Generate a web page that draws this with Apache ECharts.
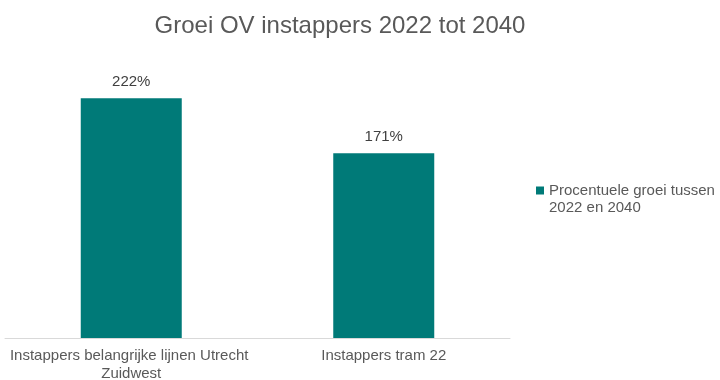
<!DOCTYPE html>
<html>
<head>
<meta charset="utf-8">
<script src="https://cdn.jsdelivr.net/npm/echarts@6/dist/echarts.min.js"></script>
<style>html,body{margin:0;padding:0;background:#fff}#c{width:720px;height:380px}</style>
</head>
<body>
<div id="c"></div>
<script>
var categories = ["Instappers belangrijke lijnen Utrecht Zuidwest", "Instappers tram 22"];
var values = [222, 171];
var seriesName = "Procentuele groei tussen 2022 en 2040";
var titleText = "Groei OV instappers 2022 tot 2040";

var chart = echarts.init(document.getElementById('c'), null, {renderer: 'canvas'});
var font = "'Liberation Sans', Arial, sans-serif";
chart.setOption({
  animation: false,
  backgroundColor: '#ffffff',
  title: {
    text: titleText,
    left: 335, top: 9, textAlign: 'center',
    textStyle: {fontFamily: font, fontSize: 24, fontWeight: 'normal', color: '#595959'}
  },
  legend: {
    orient: 'vertical',
    left: 536, top: 165, padding: 0,
    itemWidth: 8, itemHeight: 8, itemGap: 4,
    icon: 'rect',
    formatter: function (n) { return '\n' + n.replace(' 2022', '\n2022'); },
    textStyle: {fontFamily: font, fontSize: 15, color: '#595959', lineHeight: 17}
  },
  grid: {left: 5, right: 210, top: 68, bottom: 42, containLabel: false, outerBoundsMode: 'none'},
  xAxis: {
    type: 'category',
    data: categories,
    axisLine: {lineStyle: {color: '#d9d9d9', width: 1}},
    axisTick: {show: false},
    axisLabel: {interval: 0, fontFamily: font, fontSize: 15, color: '#595959', margin: 9,
      width: 250, overflow: 'break', lineHeight: 18}
  },
  yAxis: {type: 'value', min: 0, max: 250, show: false, splitLine: {show: false}},
  series: [{
    name: seriesName,
    type: 'bar',
    data: values,
    barWidth: '40%',
    itemStyle: {color: '#007A78'},
    label: {show: true, position: 'top', distance: 9, formatter: '{c}%',
      fontFamily: font, fontSize: 15, color: '#404040'}
  }]
});
</script>
</body>
</html>
